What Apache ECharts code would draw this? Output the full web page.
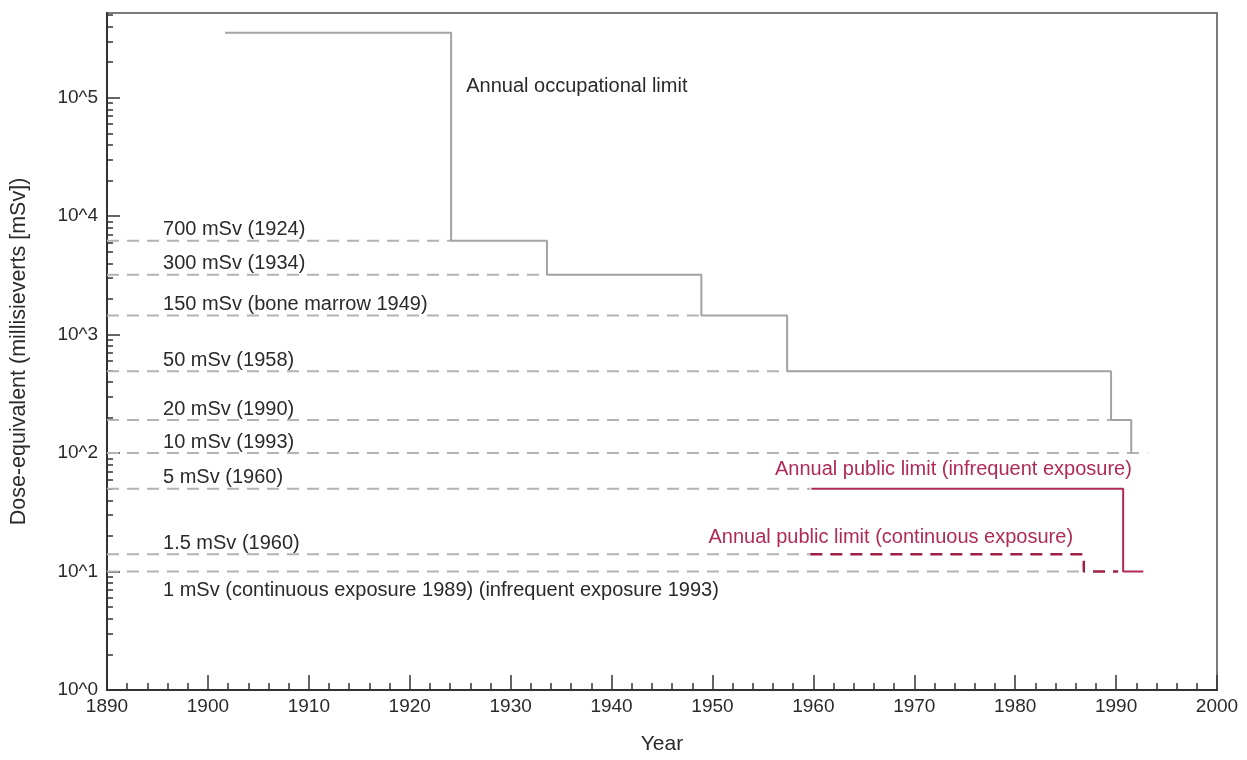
<!DOCTYPE html>
<html>
<head>
<meta charset="utf-8">
<script src="https://cdn.jsdelivr.net/npm/echarts@6/dist/echarts.min.js"></script>
<style>
html,body{margin:0;padding:0;background:#fff;}
#chart{width:1247px;height:760px;}
</style>
</head>
<body>
<div id="chart"></div>
<script>
// ---- data ----
const xMin = 1890, xMax = 2000, xStep = 10;
const yMin = 1, yMax = 520000;
const yTickValues = [1, 10, 100, 1000, 10000, 100000];

// Annual occupational limit (step line): year the value took effect, dose
const occYears = [1901.7, 1924.1, 1933.6, 1948.9, 1957.4, 1989.5, 1991.5];
const occDose  = [355000, 6200, 3200, 1450, 490, 190, 100];

// Dashed reference levels
const refDose = [6200, 3200, 1450, 490, 190, 100, 50, 14, 10];
const refEnd  = [1924.1, 1933.6, 1948.9, 1957.4, 1989.5, 1993.1, 1959.7, 1959.7, 1986.9];
const refText = ['700 mSv (1924)', '300 mSv (1934)', '150 mSv (bone marrow 1949)', '50 mSv (1958)',
                 '20 mSv (1990)', '10 mSv (1993)', '5 mSv (1960)', '1.5 mSv (1960)',
                 '1 mSv (continuous exposure 1989) (infrequent exposure 1993)'];
const refLabelYear = 1895.55;

// Annual public limits
const infrequentYears = [1959.8, 1990.7, 1992.7];
const infrequentDose  = [50, 10, 10];
const continuousYears = [1959.7, 1986.8, 1990.2];
const continuousDose  = [14, 10, 10];

// Annotations
const annotText = ['Annual occupational limit', 'Annual public limit (infrequent exposure)', 'Annual public limit (continuous exposure)'];
const annotYear = [1925.6, 1956.2, 1949.6];
const annotDose = [125000, 73, 19.4];

// ---- build ----
const FONT = 'Liberation Sans, Arial, Helvetica, sans-serif';
const GRAY_LINE = '#a3a3a3';
const DASH_GRAY = '#b3b3b3';
const TEXT = '#2a2a2a';
const RED = '#b02a56';
const RED_DARK = '#9e2145';

const yMinorTicks = [];
for (let e = 0; e <= 5; e++) {
  for (let m = 2; m <= 9; m++) {
    const v = m * Math.pow(10, e);
    if (v <= yMax) yMinorTicks.push(v);
  }
}

const series = [];
refDose.forEach((d, i) => {
  series.push({
    type: 'line', xAxisIndex: 0, yAxisIndex: 0,
    data: [[xMin, d], [refEnd[i], d]],
    symbol: 'none', silent: true, z: 2,
    lineStyle: { color: DASH_GRAY, width: 2, type: [12, 8] }
  });
});
series.push({
  type: 'scatter', xAxisIndex: 0, yAxisIndex: 0, symbolSize: 0, silent: true, z: 5,
  itemStyle: { opacity: 1 },
  data: refDose.map((d, i) => ({ value: [refLabelYear, d], name: refText[i] })),
  label: {
    show: true, position: 'right', distance: 0,
    formatter: p => p.name, color: TEXT, fontSize: 20, fontFamily: FONT
  },
  labelLayout: function (p) {
    return { dy: p.dataIndex === refDose.length - 1 ? 19 : -11 };
  }
});
series.push({
  type: 'line', xAxisIndex: 0, yAxisIndex: 0, step: 'end', symbol: 'none', silent: true, z: 4,
  data: occYears.map((y, i) => [y, occDose[i]]),
  lineStyle: { color: GRAY_LINE, width: 2 }
});
series.push({
  type: 'line', xAxisIndex: 0, yAxisIndex: 0, step: 'end', symbol: 'none', silent: true, z: 6,
  data: infrequentYears.map((y, i) => [y, infrequentDose[i]]),
  lineStyle: { color: RED, width: 2 }
});
series.push({
  type: 'line', xAxisIndex: 0, yAxisIndex: 0, step: 'end', symbol: 'none', silent: true, z: 6,
  data: continuousYears.map((y, i) => [y, continuousDose[i]]),
  lineStyle: { color: RED_DARK, width: 2.5, type: [12, 8] }
});
series.push({
  type: 'scatter', xAxisIndex: 0, yAxisIndex: 0, symbolSize: 0, silent: true, z: 7,
  itemStyle: { opacity: 1 },
  data: annotText.map((t, i) => ({
    value: [annotYear[i], annotDose[i]], name: t,
    label: { color: i === 0 ? TEXT : RED }
  })),
  label: {
    show: true, position: 'right', distance: 0,
    formatter: p => p.name, fontSize: 20, fontFamily: FONT
  }
});

const option = {
  animation: false,
  backgroundColor: '#fff',
  grid: { left: 107, right: 30, top: 13, bottom: 67, show: true, borderColor: '#7a7a7a', borderWidth: 2 },
  xAxis: [{
    type: 'value', min: xMin, max: xMax, interval: xStep,
    name: 'Year', nameLocation: 'middle', nameGap: 44,
    nameTextStyle: { fontSize: 21, color: TEXT, fontFamily: FONT },
    axisLine: { show: true, lineStyle: { color: '#333', width: 2 } },
    axisTick: { show: true, inside: true, length: 15, lineStyle: { color: '#333', width: 1.5 } },
    minorTick: { show: true, splitNumber: 5, length: 7, lineStyle: { color: '#333', width: 1.5 } },
    axisLabel: { fontSize: 19, color: TEXT, fontFamily: FONT, margin: 7, showMinLabel: true, showMaxLabel: true,
                 formatter: v => String(v) },
    splitLine: { show: false }
  }],
  yAxis: [{
    type: 'log', logBase: 10, min: yMin, max: yMax, position: 'left',
    name: 'Dose-equivalent (millisieverts [mSv])', nameLocation: 'middle', nameGap: 77,
    nameTextStyle: { fontSize: 21.5, color: TEXT, fontFamily: FONT },
    axisLine: { show: true, lineStyle: { color: '#333', width: 2 } },
    axisTick: { show: true, inside: true, length: 13, customValues: yTickValues, lineStyle: { color: '#333', width: 1.5 } },
    axisLabel: {
      customValues: yTickValues, fontSize: 19, color: TEXT, fontFamily: FONT, margin: 9,
      formatter: v => '10^' + Math.round(Math.log10(v))
    },
    splitLine: { show: false }
  }, {
    type: 'log', logBase: 10, min: yMin, max: yMax, position: 'left', offset: 0,
    axisLine: { show: false },
    axisTick: { show: true, inside: true, length: 6, customValues: yMinorTicks, lineStyle: { color: '#333', width: 1.5 } },
    axisLabel: { show: false },
    splitLine: { show: false }
  }],
  series: series
};

const chart = echarts.init(document.getElementById('chart'), null, { renderer: 'canvas' });
chart.setOption(option);
</script>
</body>
</html>
